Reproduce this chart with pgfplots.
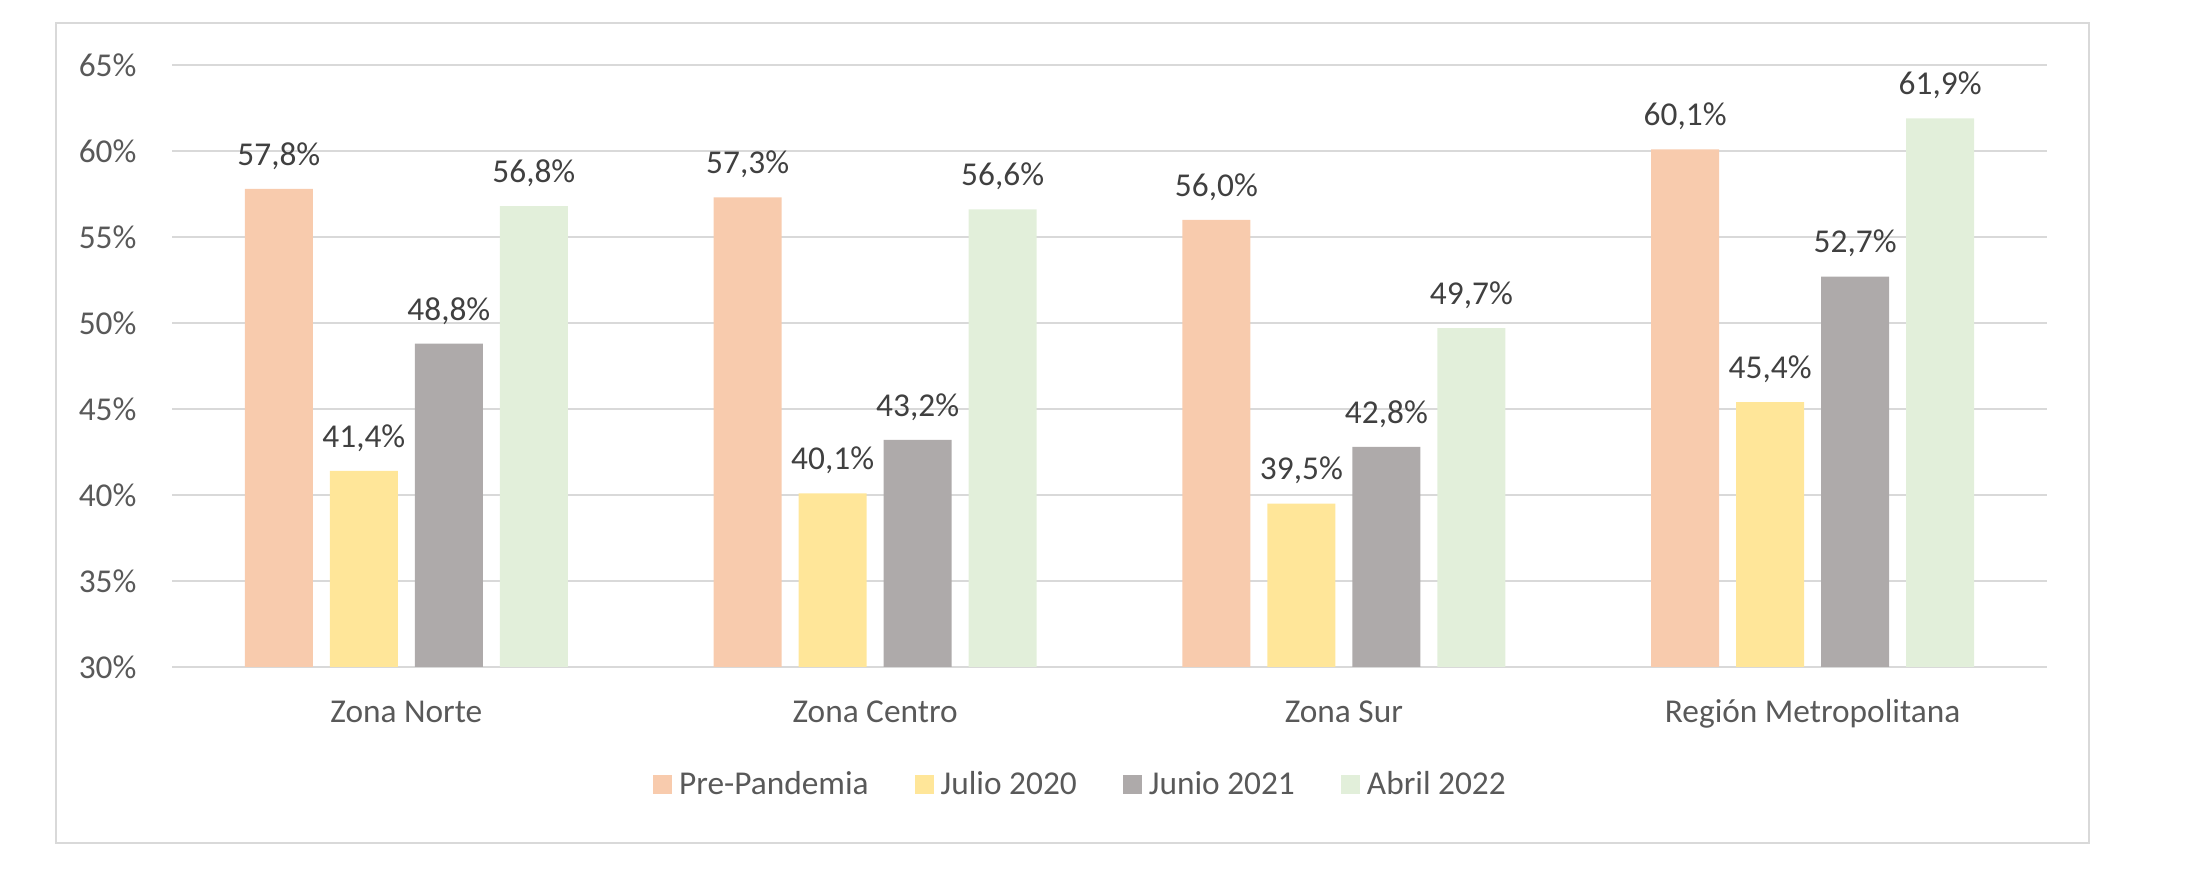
\documentclass[border=0pt]{standalone}
\usepackage{fontspec}
\setmainfont{Carlito}
\usepackage{pgfplots}
\pgfplotsset{compat=1.18}
\definecolor{cPre}{HTML}{F8CBAD}
\definecolor{cJul}{HTML}{FFE699}
\definecolor{cJun}{HTML}{AEAAAA}
\definecolor{cAbr}{HTML}{E2EFDA}
\definecolor{txt}{HTML}{595959}
\definecolor{lbl}{HTML}{404040}
\definecolor{gridc}{HTML}{D9D9D9}
\begin{document}
\begin{tikzpicture}
\useasboundingbox (0,0) rectangle (789.84pt,318.24pt);
\draw[gridc, line width=1pt] (20.16pt,14.76pt) rectangle (752.04pt,309.96pt);
\begin{axis}[
  at={(61.92pt,78.12pt)}, anchor=south west,
  width=675pt, height=216.72pt, scale only axis,
  xmin=-0.5, xmax=3.5, ymin=30, ymax=65,
  ybar=6.12pt, bar width=24.48pt,
  xtick={0,1,2,3},
  xticklabels={Zona Norte, Zona Centro, Zona Sur, Región Metropolitana},
  ytick={30,35,...,65},
  yticklabel={\pgfmathprintnumber{\tick}\%},
  /pgf/number format/assume math mode=true,
  axis line style={draw=none},
  major tick length=0pt,
  ymajorgrids, grid style={gridc, line width=1pt},
  tick label style={font=\fontsize{12}{14}\selectfont, text=txt},
  yticklabel style={anchor=east, inner sep=0pt, xshift=-12.6pt},
  xticklabel style={anchor=base, inner sep=0pt, yshift=-20pt},
  nodes near coords={\pgfmathprintnumber[fixed,fixed zerofill,precision=1,use comma]{\pgfplotspointmeta}\%},
  nodes near coords style={font=\fontsize{12}{14}\selectfont, text=lbl, anchor=base, inner sep=0pt, yshift=8.5pt},
  every axis plot post/.append style={draw=none, legend image code/.code={\fill[##1] (0pt,-3.42pt) rectangle (6.84pt,3.42pt);}},
  legend columns=4,
  legend style={at={(0.484,-0.196)}, anchor=center, draw=none, fill=none,
    font=\fontsize{12}{14}\selectfont, text=txt,
    nodes={inner sep=0pt},
    /tikz/every odd column/.append style={column sep=2.5pt},
    /tikz/every even column/.append style={column sep=16.6pt}},
  legend cell align=left,
]
\addplot[fill=cPre] coordinates {(0,57.8) (1,57.3) (2,56.0) (3,60.1)};
\addplot[fill=cJul] coordinates {(0,41.4) (1,40.1) (2,39.5) (3,45.4)};
\addplot[fill=cJun] coordinates {(0,48.8) (1,43.2) (2,42.8) (3,52.7)};
\addplot[fill=cAbr] coordinates {(0,56.8) (1,56.6) (2,49.7) (3,61.9)};
\legend{Pre-Pandemia, Julio 2020, Junio 2021, Abril 2022}
\end{axis}
\end{tikzpicture}
\end{document}
